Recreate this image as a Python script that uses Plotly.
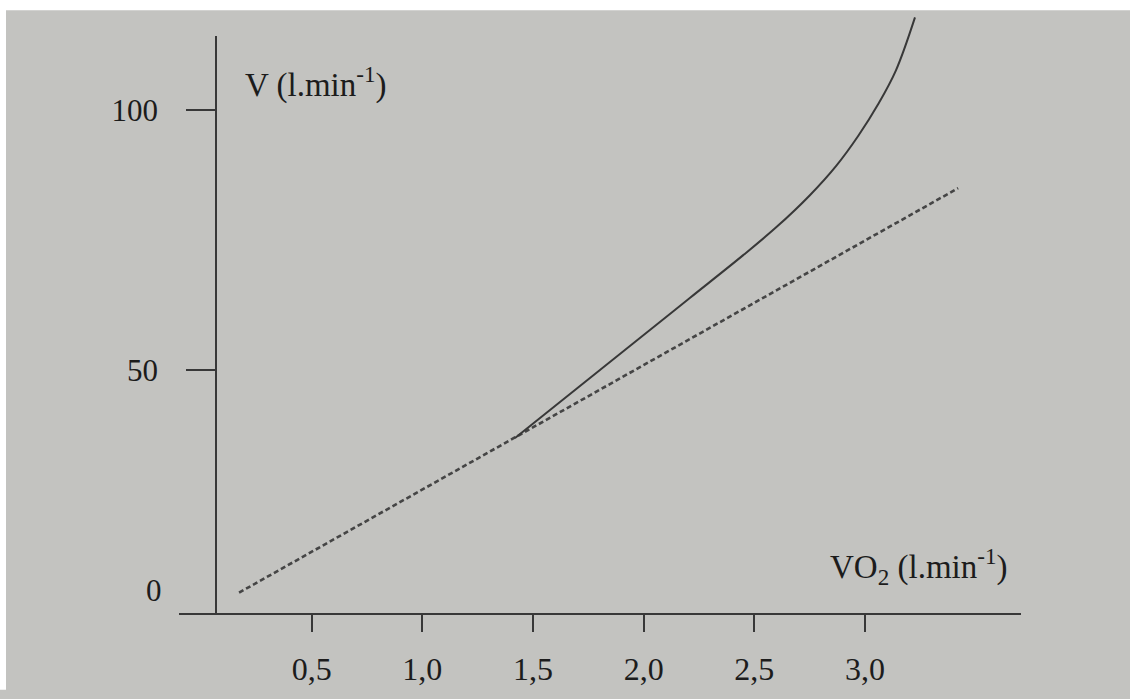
import plotly.graph_objects as go

# Data
vo2_tangent = [0.172, 3.421]
v_tangent = [7.1, 85.0]

vo2_curve = [1.419, 1.952, 2.210, 2.450, 2.600, 2.750, 2.870, 2.970, 3.060, 3.140, 3.226]
v_curve = [36.9, 55.1, 63.9, 72.1, 77.5, 83.6, 89.3, 95.1, 101.2, 107.7, 117.9]

x_ticks = [0.5, 1.0, 1.5, 2.0, 2.5, 3.0]
y_ticks = [50, 100]

FONT = "Liberation Serif"
INK = "#1c1c1c"
LINE = "#383838"
BG = "#c3c3c0"

W, H = 1130, 699
L, R, T, B = 179, 1021, 15, 630  # plot area in px
pw, ph = R - L, B - T


def px_x(p):
    return (p - L) / pw


def px_y(p):
    return (B - p) / ph


fig = go.Figure()
fig.add_trace(go.Scatter(x=vo2_tangent, y=v_tangent, mode="lines",
                         line=dict(color="#454545", width=2.6, dash="5px,3px"),
                         showlegend=False, hoverinfo="skip"))
fig.add_trace(go.Scatter(x=vo2_curve, y=v_curve, mode="lines",
                         line=dict(color=LINE, width=2, shape="spline", smoothing=1.0),
                         showlegend=False, hoverinfo="skip"))
fig.add_trace(go.Scatter(x=[], y=[], yaxis="y2", showlegend=False, hoverinfo="skip"))

y0 = 3.18
scale = 5.34  # px per unit
fig.update_layout(
    width=W, height=H,
    margin=dict(l=L, r=W - R, t=T, b=H - B, pad=0),
    paper_bgcolor=BG,
    plot_bgcolor="rgba(0,0,0,0)",
    separators=", ",
    font=dict(family=FONT, color=INK, size=31),
    xaxis=dict(range=[-0.0994, 3.705], showline=True, linecolor=LINE, linewidth=1.8,
               ticks="outside", ticklen=17, tickwidth=1.6, tickcolor=LINE,
               tickvals=x_ticks, tickformat=".1f", showgrid=False, zeroline=False,
               tickfont=dict(size=32, family=FONT, color=INK), ticklabelstandoff=10),
    yaxis=dict(range=[y0, y0 + ph / scale], visible=False, showgrid=False, zeroline=False),
    yaxis2=dict(range=[y0, y0 + (B - 37) / scale], domain=[0, (B - 37) / ph],
                anchor="free", position=px_x(216), side="left",
                showline=True, linecolor=LINE, linewidth=1.8,
                ticks="outside", ticklen=29, tickwidth=1.6, tickcolor=LINE,
                tickvals=y_ticks, showgrid=False, zeroline=False,
                tickfont=dict(size=31, family=FONT, color=INK), ticklabelstandoff=22),
    shapes=[
        dict(type="rect", xref="paper", yref="paper", layer="below",
             x0=px_x(-10), x1=px_x(W + 10), y0=px_y(10), y1=px_y(-10),
             fillcolor="white", line=dict(width=0)),
        dict(type="rect", xref="paper", yref="paper", layer="below",
             x0=px_x(-10), x1=px_x(6), y0=px_y(H + 10), y1=px_y(-10),
             fillcolor="white", line=dict(width=0)),
    ],
    annotations=[
        dict(text="V (l.min<sup>-1</sup>)", xref="paper", yref="paper",
             x=px_x(243), y=px_y(84), xanchor="left", yanchor="middle",
             showarrow=False, font=dict(size=33, family=FONT, color=INK)),
        dict(text="VO<sub>2</sub> (l.min<sup>-1</sup>)", xref="paper", yref="paper",
             x=px_x(828), y=px_y(582), xanchor="left", yanchor="middle",
             showarrow=False, font=dict(size=33, family=FONT, color=INK)),
        dict(text="0", xref="paper", yref="paper",
             x=px_x(164), y=px_y(607), xanchor="right", yanchor="middle",
             showarrow=False, font=dict(size=31, family=FONT, color=INK)),
    ],
)

fig.write_html("out.html", config={"displayModeBar": False},
               post_script="document.body.style.margin='0';document.body.style.padding='0';"
                           "document.body.style.overflow='hidden';"
                           "document.body.style.background='" + BG + "';")
